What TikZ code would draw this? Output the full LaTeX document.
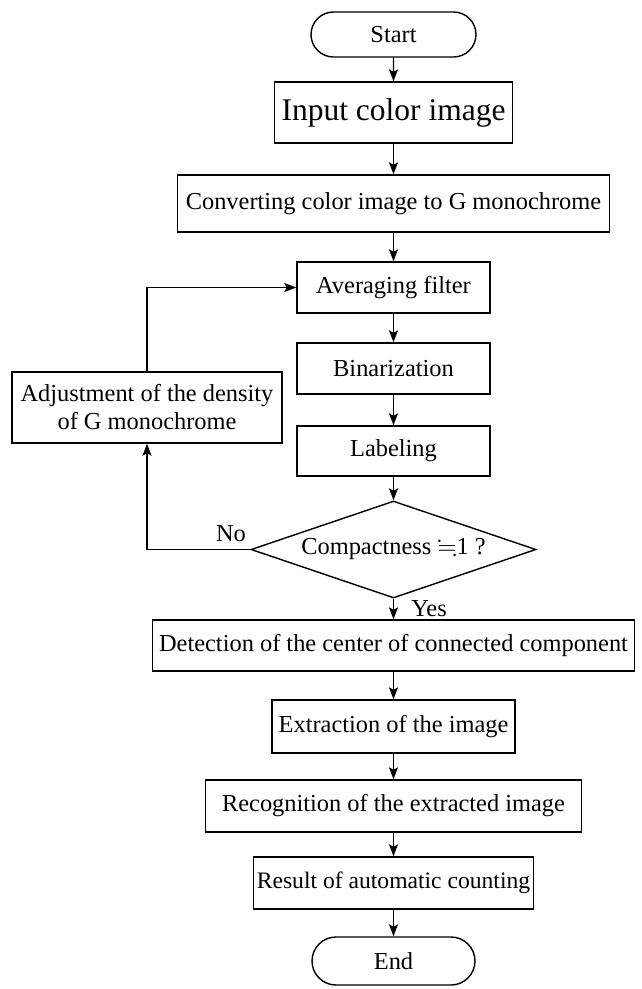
\documentclass[tikz,border=0pt]{standalone}
\usepackage{amssymb}
\usepackage{fontspec}
\setmainfont{Liberation Serif}
\usetikzlibrary{shapes.geometric,shapes.misc,arrows.meta}
\tikzset{
  base/.style={draw=black, line width=1.4pt, inner sep=0pt, align=center,
    font=\fontsize{24.4}{28}\selectfont},
  proc/.style={base, rectangle},
  term/.style={base, rounded rectangle, rounded rectangle arc length=180},
  decision/.style={base, diamond, aspect=2.94},
  flow/.style={line width=1.4pt, -{Stealth[length=12pt,width=9pt,inset=2.5pt]}},
  lbl/.style={inner sep=0pt, font=\fontsize{24.4}{28}\selectfont}
}
\begin{document}
\begin{tikzpicture}[x=1pt,y=-1pt]
\useasboundingbox (0,0) rectangle (641,989);
\def\cx{393.5}
\node[term, minimum width=165pt, minimum height=45pt] (start) at (\cx,34.5) {Start};
\node[proc, minimum width=238pt, minimum height=61pt, font=\fontsize{31.5}{36}\selectfont] (input) at (\cx,112.5) {Input color image};
\node[proc, minimum width=432pt, minimum height=57pt] (conv) at (\cx,203.5) {Converting color image to G monochrome};
\node[proc, minimum width=193pt, minimum height=51pt] (avg) at (\cx,287.5) {Averaging filter};
\node[proc, minimum width=193pt, minimum height=51pt] (bin) at (\cx,368.5) {Binarization};
\node[proc, minimum width=193pt, minimum height=50pt] (lab) at (\cx,451) {Labeling};
\node[decision, minimum width=285pt, minimum height=97pt] (dec) at (\cx,549.5) {Compactness $\fallingdotseq$1 ?};
\node[proc, minimum width=270pt, minimum height=71pt] (adj) at (147,407.5) {Adjustment of the density\\of G monochrome};
\node[proc, minimum width=482pt, minimum height=51pt] (det) at (\cx,645.5) {Detection of the center of connected component};
\node[proc, minimum width=243pt, minimum height=53pt] (ext) at (\cx,726.5) {Extraction of the image};
\node[proc, minimum width=376pt, minimum height=52pt] (rec) at (\cx,806) {Recognition of the extracted image};
\node[proc, minimum width=280pt, minimum height=52pt, font=\fontsize{23.6}{28}\selectfont] (res) at (\cx,883) {Result of automatic counting};
\node[term, minimum width=163pt, minimum height=48pt] (end) at (\cx,961) {End};

\draw[flow] (start) -- (input);
\draw[flow] (input) -- (conv);
\draw[flow] (conv) -- (avg);
\draw[flow] (avg) -- (bin);
\draw[flow] (bin) -- (lab);
\draw[flow] (lab) -- (dec);
\draw[flow] (dec) -- (det);
\draw[flow] (det) -- (ext);
\draw[flow] (ext) -- (rec);
\draw[flow] (rec) -- (res);
\draw[flow] (res) -- (end);
\draw[flow] (dec.west) -| (adj.south);
\draw[flow] (adj.north) |- (avg.west);

\node[lbl] (no) at (231,534) {No};
\node[lbl] (yes) at (429,609) {Yes};
\end{tikzpicture}
\end{document}
